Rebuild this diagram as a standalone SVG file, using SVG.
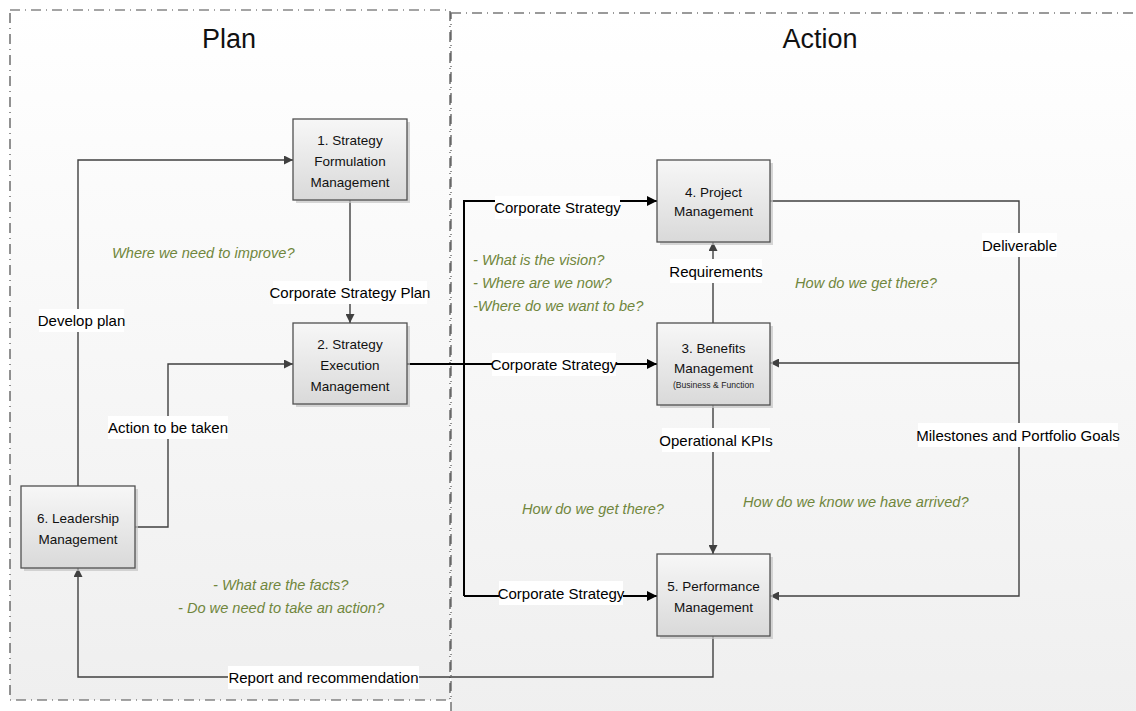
<svg xmlns="http://www.w3.org/2000/svg" width="1136" height="711" viewBox="0 0 1136 711">
  <defs>
    <linearGradient id="zoneFill" x1="0" y1="0" x2="0" y2="1">
      <stop offset="0" stop-color="#ffffff"/>
      <stop offset="1" stop-color="#efefef"/>
    </linearGradient>
    <linearGradient id="nodeFill" x1="0" y1="0" x2="0" y2="1">
      <stop offset="0" stop-color="#f7f7f7"/>
      <stop offset="1" stop-color="#d9d9d9"/>
    </linearGradient>
    <marker id="arrGray" viewBox="0 0 10 10" refX="10" refY="5" markerWidth="10" markerHeight="9" markerUnits="userSpaceOnUse" orient="auto">
      <path d="M0,0 L10,5 L0,10 z" fill="#404040"/>
    </marker>
    <marker id="arrBlack" viewBox="0 0 10 10" refX="10" refY="5" markerWidth="11" markerHeight="10" markerUnits="userSpaceOnUse" orient="auto">
      <path d="M0,0 L10,5 L0,10 z" fill="#000000"/>
    </marker>
    <style>
      .zone { fill: url(#zoneFill); stroke: #4a4a4a; stroke-width: 1.2; stroke-dasharray: 10 5 1 5; }
      .zone2 { fill: url(#zoneFill); stroke: #7a7a7a; stroke-width: 1.6; stroke-dasharray: 10 5 1 5; }
      .title { font-family: "Liberation Sans", Arial, sans-serif; font-size: 27px; fill: #111; text-anchor: middle; }
      .box { fill: url(#nodeFill); stroke: #505050; stroke-width: 1.3; }
      .shadow { fill: #c4c4c4; opacity: 0.7; }
      .ntext { font-family: "Liberation Sans", Arial, sans-serif; font-size: 13.5px; fill: #111; text-anchor: middle; }
      .small { font-family: "Liberation Sans", Arial, sans-serif; font-size: 8.6px; fill: #222; text-anchor: middle; }
      .line { fill: none; stroke: #404040; stroke-width: 1.4; }
      .bold { fill: none; stroke: #000; stroke-width: 2; }
      .lblbg { fill: #ffffff; }
      .lbl { font-family: "Liberation Sans", Arial, sans-serif; font-size: 15px; fill: #000; text-anchor: middle; }
      .note { font-family: "Liberation Sans", Arial, sans-serif; font-size: 14.6px; font-style: italic; fill: #70863c; }
    </style>
  </defs>

  <rect x="0" y="0" width="1136" height="711" fill="#ffffff"/>

  <!-- swimlane zones -->
  <g id="zone-action">
    <rect class="zone2" x="451" y="13" width="700" height="710"/>
    <text class="title" x="820" y="48">Action</text>
  </g>
  <g id="zone-plan">
    <rect class="zone" x="10" y="10" width="440" height="690"/>
    <text class="title" x="229" y="48" font-size="25">Plan</text>
  </g>

  <!-- connectors -->
  <g id="connectors">
    <!-- plan side -->
    <path class="line" d="M78,486 V160 H293" marker-end="url(#arrGray)"/>
    <path class="line" d="M350,200 V323" marker-end="url(#arrGray)"/>
    <path class="line" d="M135,527 H168 V364 H293" marker-end="url(#arrGray)"/>
    <path class="line" d="M713,636 V677 H78 V568" marker-end="url(#arrGray)"/>

    <!-- corporate strategy distribution -->
    <path class="bold" d="M407,364 H657" marker-end="url(#arrBlack)"/>
    <path class="bold" d="M464,596 V201 H657" marker-end="url(#arrBlack)"/>
    <path class="bold" d="M464,596 H657" marker-end="url(#arrBlack)"/>

    <!-- action side -->
    <path class="line" d="M713,323 V242" marker-end="url(#arrGray)"/>
    <path class="line" d="M713,405 V554" marker-end="url(#arrGray)"/>
    <path class="line" d="M770,201 H1019 V596 H770" marker-end="url(#arrGray)"/>
    <path class="line" d="M1019,363 H770" marker-end="url(#arrGray)"/>

    <!-- connector labels -->
    <rect class="lblbg" x="39" y="309" width="85" height="23"/>
    <text class="lbl" x="81.5" y="326">Develop plan</text>
    <rect class="lblbg" x="273" y="281" width="154" height="23"/>
    <text class="lbl" x="350" y="298">Corporate Strategy Plan</text>
    <rect class="lblbg" x="108" y="416" width="120" height="23"/>
    <text class="lbl" x="168" y="433">Action to be taken</text>
    <rect class="lblbg" x="228" y="666" width="191" height="23"/>
    <text class="lbl" x="323.5" y="683">Report and recommendation</text>

    <rect class="lblbg" x="495" y="196" width="125" height="23"/>
    <text class="lbl" x="557.5" y="213">Corporate Strategy</text>
    <rect class="lblbg" x="492" y="353" width="124" height="23"/>
    <text class="lbl" x="554" y="370">Corporate Strategy</text>
    <rect class="lblbg" x="499" y="581" width="124" height="24"/>
    <text class="lbl" x="561" y="598.5">Corporate Strategy</text>

    <rect class="lblbg" x="670" y="259" width="92" height="24"/>
    <text class="lbl" x="716" y="276.5">Requirements</text>
    <rect class="lblbg" x="662" y="428" width="108" height="24"/>
    <text class="lbl" x="716" y="445.5">Operational KPIs</text>
    <rect class="lblbg" x="982" y="233" width="75" height="24"/>
    <text class="lbl" x="1019.5" y="250.5">Deliverable</text>
    <rect class="lblbg" x="918" y="423" width="200" height="24"/>
    <text class="lbl" x="1018" y="440.5">Milestones and Portfolio Goals</text>
  </g>

  <!-- nodes -->
  <g id="node-1">
    <rect class="shadow" x="296" y="122" width="114" height="81"/>
    <rect class="box" x="293" y="119" width="114" height="81"/>
    <text class="ntext" x="350" y="145">1. Strategy</text>
    <text class="ntext" x="350" y="166">Formulation</text>
    <text class="ntext" x="350" y="187">Management</text>
  </g>
  <g id="node-2">
    <rect class="shadow" x="296" y="326" width="114" height="81"/>
    <rect class="box" x="293" y="323" width="114" height="81"/>
    <text class="ntext" x="350" y="349">2. Strategy</text>
    <text class="ntext" x="350" y="370">Execution</text>
    <text class="ntext" x="350" y="391">Management</text>
  </g>
  <g id="node-3">
    <rect class="shadow" x="660" y="326" width="113" height="82"/>
    <rect class="box" x="657" y="323" width="113" height="82"/>
    <text class="ntext" x="713.5" y="353">3. Benefits</text>
    <text class="ntext" x="713.5" y="373">Management</text>
    <text class="small" x="713.5" y="388">(Business &amp; Function</text>
  </g>
  <g id="node-4">
    <rect class="shadow" x="660" y="163" width="113" height="82"/>
    <rect class="box" x="657" y="160" width="113" height="82"/>
    <text class="ntext" x="713.5" y="197">4. Project</text>
    <text class="ntext" x="713.5" y="216">Management</text>
  </g>
  <g id="node-5">
    <rect class="shadow" x="660" y="557" width="113" height="82"/>
    <rect class="box" x="657" y="554" width="113" height="82"/>
    <text class="ntext" x="713.5" y="591">5. Performance</text>
    <text class="ntext" x="713.5" y="612">Management</text>
  </g>
  <g id="node-6">
    <rect class="shadow" x="24" y="489" width="114" height="82"/>
    <rect class="box" x="21" y="486" width="114" height="82"/>
    <text class="ntext" x="78" y="523">6. Leadership</text>
    <text class="ntext" x="78" y="544">Management</text>
  </g>

  <!-- guiding questions -->
  <g id="questions">
    <text class="note" x="112" y="258">Where we need to improve?</text>
    <text class="note" x="473" y="265">- What is the vision?</text>
    <text class="note" x="473" y="288">- Where are we now?</text>
    <text class="note" x="473" y="311">-Where do we want to be?</text>
    <text class="note" x="795" y="288">How do we get there?</text>
    <text class="note" x="522" y="514">How do we get there?</text>
    <text class="note" x="743" y="507">How do we know we have arrived?</text>
    <text class="note" x="213" y="590">- What are the facts?</text>
    <text class="note" x="178" y="613">- Do we need to take an action?</text>
  </g>
</svg>
